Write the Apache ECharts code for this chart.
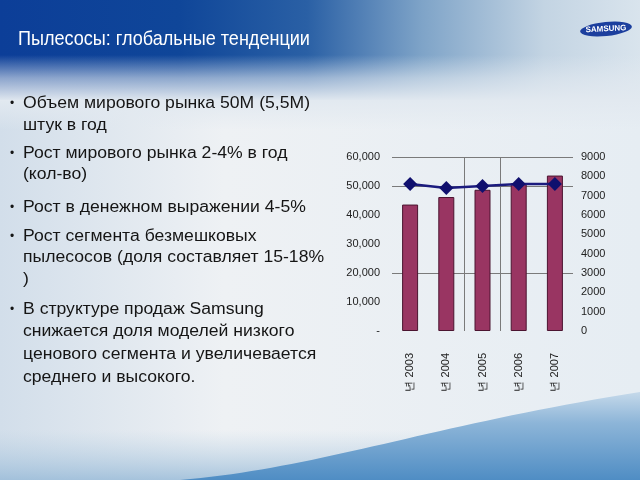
<!DOCTYPE html>
<html>
<head>
<meta charset="utf-8">
<script src="https://cdn.jsdelivr.net/npm/echarts@6/dist/echarts.min.js"></script>
<style>html,body{margin:0;padding:0;}#c{width:640px;height:480px;}</style>
</head>
<body>
<div id="c"></div>
<script>
var categories = ['년 2003', '년 2004', '년 2005', '년 2006', '년 2007'];
var marketValues = [43600, 46200, 48700, 51000, 53600];
var unitValues = [7600, 7400, 7500, 7600, 7600];
var leftTicks = { min: 0, max: 60000, interval: 10000 };
var rightTicks = { min: 0, max: 9000, interval: 1000 };
var titleText = 'Пылесосы: глобальные тенденции';
var bulletLines = [
  { t: '•', x: 10, y: 104, b: true },
  { t: 'Объем мирового рынка 50M (5,5M)', x: 23, y: 104 },
  { t: 'штук в год', x: 23, y: 126 },
  { t: '•', x: 10, y: 154, b: true },
  { t: 'Рост мирового рынка 2-4% в год', x: 23, y: 154 },
  { t: '(кол-во)', x: 23, y: 175 },
  { t: '•', x: 10, y: 208, b: true },
  { t: 'Рост в денежном выражении 4-5%', x: 23, y: 208 },
  { t: '•', x: 10, y: 237, b: true },
  { t: 'Рост сегмента безмешковых', x: 23, y: 237 },
  { t: 'пылесосов (доля составляет 15-18%', x: 23, y: 258 },
  { t: ')', x: 23, y: 280 },
  { t: '•', x: 10, y: 310, b: true },
  { t: 'В структуре продаж Samsung', x: 23, y: 310 },
  { t: 'снижается доля моделей низкого', x: 23, y: 332 },
  { t: 'ценового сегмента и увеличевается', x: 23, y: 355 },
  { t: 'среднего и высокого.', x: 23, y: 378 }
];

// decorative background wave outline (cubic bezier sampled)
function bez(p0, p1, p2, p3, n) {
  var pts = [];
  for (var i = 0; i <= n; i++) {
    var t = i / n, u = 1 - t;
    pts.push([u*u*u*p0[0] + 3*u*u*t*p1[0] + 3*u*t*t*p2[0] + t*t*t*p3[0],
              u*u*u*p0[1] + 3*u*u*t*p1[1] + 3*u*t*t*p2[1] + t*t*t*p3[1]]);
  }
  return pts;
}
var wavePts = bez([180, 480], [320, 468], [430, 425], [640, 392], 40);
wavePts.push([640, 480]);

var chart = echarts.init(document.getElementById('c'));

var graphics = [
  { type: 'rect', z: -10, shape: { x: 0, y: 0, width: 640, height: 480 }, silent: true,
    style: { fill: new echarts.graphic.LinearGradient(0, 0, 1, 0, [
      { offset: 0, color: '#d2deea' }, { offset: 0.35, color: '#eef1f4' }, { offset: 1, color: '#e6edf3' }]) } },
  { type: 'rect', z: -9, shape: { x: 0, y: 0, width: 640, height: 100 }, silent: true,
    style: { fill: new echarts.graphic.LinearGradient(0, 0, 1, 0, [
      { offset: 0, color: '#0c3e98' }, { offset: 0.28, color: '#0f4699' }, { offset: 0.48, color: '#2a60a5' },
      { offset: 0.66, color: '#7fa4c8' }, { offset: 0.85, color: '#c3d4e3' }, { offset: 1, color: '#d9e4ed' }]) } },
  { type: 'rect', z: -8, shape: { x: 0, y: 55, width: 640, height: 46 }, silent: true,
    style: { fill: new echarts.graphic.LinearGradient(0, 0, 0, 1, [
      { offset: 0, color: 'rgba(226,233,240,0)' }, { offset: 0.5, color: 'rgba(226,233,240,0.6)' }, { offset: 1, color: 'rgba(226,233,240,1)' }]) } },
  { type: 'rect', z: -8, shape: { x: 0, y: 100, width: 640, height: 30 }, silent: true,
    style: { fill: new echarts.graphic.LinearGradient(0, 0, 0, 1, [
      { offset: 0, color: 'rgba(226,233,240,1)' }, { offset: 1, color: 'rgba(226,233,240,0)' }]) } },
  { type: 'rect', z: -9, shape: { x: 0, y: 430, width: 640, height: 50 }, silent: true,
    style: { fill: new echarts.graphic.LinearGradient(0, 0, 0, 1, [
      { offset: 0, color: 'rgba(180,205,225,0)' }, { offset: 1, color: 'rgba(150,185,215,0.8)' }]) } },
  { type: 'polygon', z: -7, silent: true,
    shape: { points: wavePts },
    style: { fill: new echarts.graphic.LinearGradient(0, 0, 0, 1, [
      { offset: 0, color: '#c5d9ea' }, { offset: 0.35, color: '#8db5d8' }, { offset: 1, color: '#4f8dc4' }]) } },
  { type: 'circle', z: 5, silent: true, x: 606, y: 29, rotation: 0.1, scaleY: 0.27,
    shape: { cx: 0, cy: 0, r: 26 }, style: { fill: '#1c3f9e' } },
  { type: 'text', z: 6, silent: true, x: 606, y: 29, rotation: 0.05,
    style: { text: 'SAMSUNG', fill: '#ffffff', font: 'bold 8px "Liberation Sans", Arial', align: 'center', verticalAlign: 'middle' } },
  { type: 'text', z: 6, silent: true, x: 18, y: 39, scaleX: 0.86,
    style: { text: titleText, fill: '#ffffff', font: '21px "Liberation Sans", Arial', verticalAlign: 'middle' } }
];
bulletLines.forEach(function (l) {
  graphics.push({ type: 'text', z: 6, silent: true, x: l.x, y: l.y, scaleX: l.b ? 1 : 1.1,
    style: { text: l.t, fill: '#151515', font: (l.b ? '12px' : '16px') + ' "Liberation Sans", Arial', verticalAlign: 'middle' } });
});

chart.setOption({
  animation: false,
  graphic: graphics,
  grid: { left: 392, right: 67, top: 157, bottom: 149 },
  xAxis: {
    type: 'category', data: categories,
    axisLine: { show: false }, axisTick: { show: false },
    axisLabel: { rotate: 90, margin: 22, color: '#222', fontSize: 11, fontFamily: '"Liberation Sans", Arial' },
    splitLine: { show: true, interval: function (i) { return i === 2 || i === 3; },
      lineStyle: { color: ['#7a7a7a', '#7a7a7a', 'rgba(0,0,0,0)'], width: 1 } }
  },
  yAxis: [
    { type: 'value', min: leftTicks.min, max: leftTicks.max, interval: leftTicks.interval,
      axisLine: { show: false }, axisTick: { show: false },
      axisLabel: { margin: 12, color: '#222', fontSize: 11, fontFamily: '"Liberation Sans", Arial',
        formatter: function (v) { return v === 0 ? '-' : v.toLocaleString('en-US'); } },
      splitLine: { show: true, lineStyle: { color: ['rgba(0,0,0,0)', 'rgba(0,0,0,0)', '#7a7a7a', 'rgba(0,0,0,0)', 'rgba(0,0,0,0)', '#7a7a7a', '#7a7a7a'], width: 1 } } },
    { type: 'value', min: rightTicks.min, max: rightTicks.max, interval: rightTicks.interval,
      axisLine: { show: false }, axisTick: { show: false }, splitLine: { show: false },
      axisLabel: { margin: 8, color: '#222', fontSize: 11, fontFamily: '"Liberation Sans", Arial',
        formatter: function (v) { return String(v); } } }
  ],
  series: [
    { type: 'bar', data: marketValues, yAxisIndex: 0, barWidth: 16,
      itemStyle: { color: '#993562', borderColor: '#4b1430', borderWidth: 1 } },
    { type: 'line', data: unitValues, yAxisIndex: 1, symbol: 'diamond', symbolSize: 14,
      lineStyle: { color: '#1b1b7e', width: 2.5 }, itemStyle: { color: '#10106e' }, z: 5 }
  ]
});
</script>
</body>
</html>
